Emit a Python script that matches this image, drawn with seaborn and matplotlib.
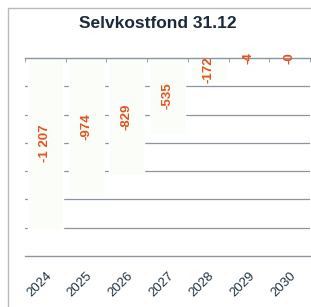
import matplotlib
matplotlib.use("Agg")
import matplotlib.pyplot as plt
import seaborn as sns
import pandas as pd
from matplotlib.patches import Rectangle

# data
years = ["2024", "2025", "2026", "2027", "2028", "2029", "2030"]
values = [-1207, -974, -829, -535, -172, -4, -0.3]
gridlines = [-200, -400, -600, -800, -1000, -1200]

df = pd.DataFrame({"year": years, "value": values})

sns.set_style("white")
plt.rcParams["font.family"] = ["Liberation Sans", "DejaVu Sans"]

fig = plt.figure(figsize=(3.11, 3.07), dpi=100)
ax = fig.add_axes([25 / 311, 51 / 307, 285 / 311, 198 / 307])

# gray outer frame of the chart box (cut off right and bottom)
fig.patches.append(Rectangle((8 / 311, -0.1), 1.2, (299 / 307) + 0.1,
                             transform=fig.transFigure, fill=False,
                             edgecolor="#b4bcc0", lw=1.0))

for g in gridlines:
    ax.axhline(g, color="#8c959d", lw=0.9, zorder=0)

sns.barplot(data=df, x="year", y="value", color="#fbfdf9", width=0.86,
            saturation=1, ax=ax, zorder=2)

labels = [f"{v:,.0f}".replace(",", " ") for v in values]
ax.bar_label(ax.containers[0], labels=labels, label_type="center",
             rotation=90, color="#e8501e", fontsize=9.5, fontweight="bold",
             zorder=3)

ax.set_ylim(-1400, 0)
ax.set_xlim(-0.5, 6.5)
ax.set_xlabel("")
ax.set_ylabel("")
ax.set_yticks([])

ax.set_xticks(range(len(years)))
ax.set_xticklabels(years, rotation=45, ha="right", rotation_mode="anchor",
                   fontsize=9.5, color="#1f3340")
ax.set_xticks([i + 0.5 for i in range(-1, len(years))], minor=True)
ax.tick_params(axis="x", which="major", length=0, pad=10)
ax.tick_params(axis="x", which="minor", top=True, bottom=False,
               direction="in", length=3, color="#8c959d")

for side in ["left", "right"]:
    ax.spines[side].set_visible(False)
for side in ["top", "bottom"]:
    ax.spines[side].set_color("#8c959d")
    ax.spines[side].set_linewidth(1.0)

fig.text(158 / 311, 1 - 23 / 307, "Selvkostfond 31.12", ha="center",
         va="center", fontsize=12.5, fontweight="bold", color="#1b2a3a")

fig.savefig("out.png", dpi=100, facecolor="white")
